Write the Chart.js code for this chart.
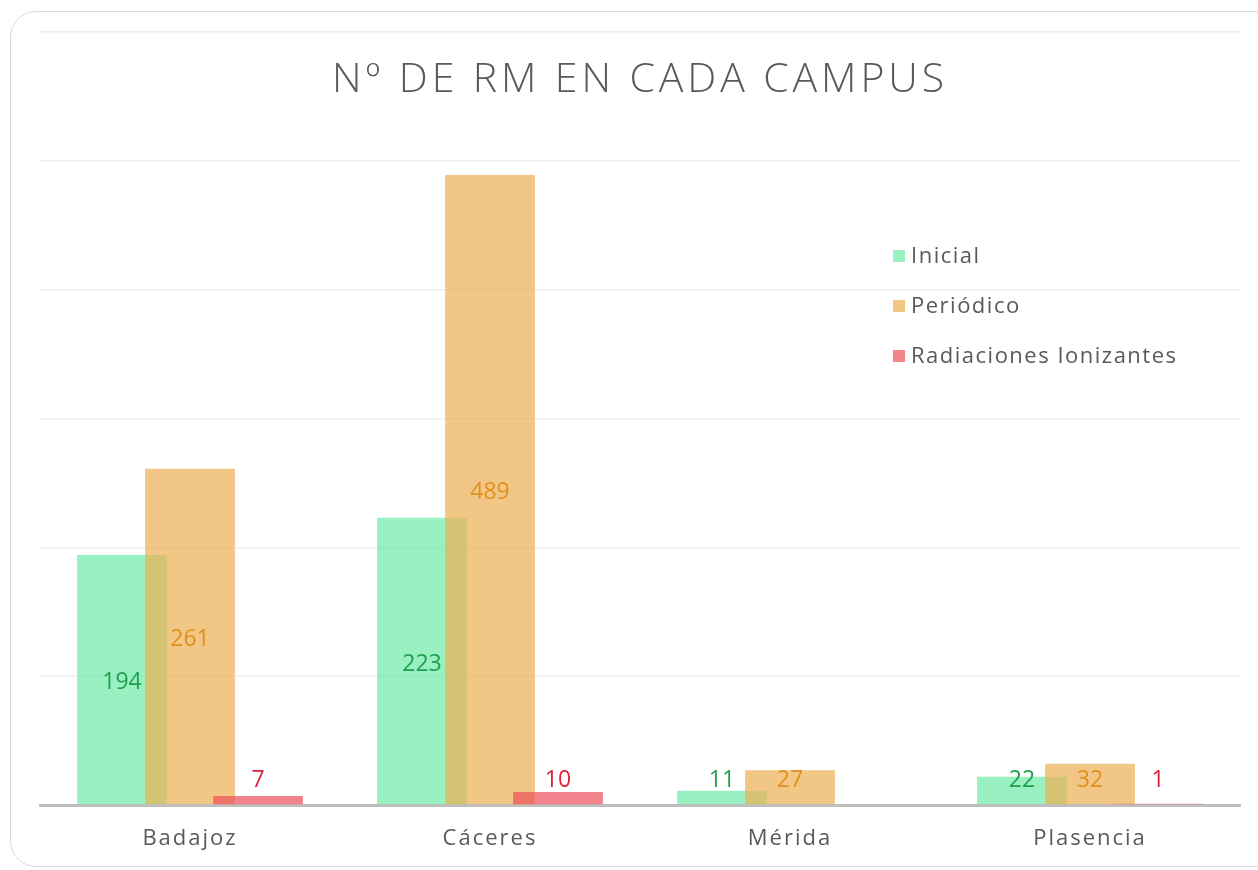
<!DOCTYPE html>
<html>
<head>
<meta charset="utf-8">
<script src="https://cdn.jsdelivr.net/npm/chart.js@4/dist/chart.umd.min.js"></script>
<style>
  html, body { margin: 0; padding: 0; background: #fff; overflow: hidden; }
  #wrap { position: relative; width: 1258px; height: 870px; }
  #frame {
    position: absolute; left: 10px; top: 11px; width: 1280px; height: 856px;
    border: 1.5px solid #d9d9d9; border-radius: 26px; box-sizing: border-box;
  }
  #title {
    position: absolute; left: 0; top: 48px; width: 1280px; text-align: center;
    font-family: "Open Sans", sans-serif; font-size: 41px; font-weight: 300;
    letter-spacing: 3.9px; color: #595959; pointer-events: none;
  }
  canvas { position: absolute; left: 0; top: 0; }
</style>
</head>
<body>
<div id="wrap">
  <div id="frame"></div>
  <canvas id="rmChart" width="1258" height="870"></canvas>
  <div id="title">Nº DE RM EN CADA CAMPUS</div>
</div>
<script>
// Datos
const campus = ["Badajoz", "Cáceres", "Mérida", "Plasencia"];
const inicial = [194, 223, 11, 22];
const periodico = [261, 489, 27, 32];
const radiaciones = [7, 10, null, 1];
const seriesNames = ["Inicial", "Periódico", "Radiaciones Ionizantes"];

const barColors = ["rgba(109, 234, 165, 0.7)", "rgba(236, 175, 81, 0.7)", "rgba(236, 79, 91, 0.7)"];
const legendColors = ["#99f0c0", "#f2c785", "#f2848c"];
const labelColors = ["#22a050", "#e0901e", "#e0203a"];

// Dibujar las series en orden: Inicial abajo, Radiaciones arriba
const drawOrder = {
  id: "drawOrder",
  beforeDatasetsDraw(chart) {
    chart.data.datasets.forEach((ds, i) => {
      chart.getDatasetMeta(i).controller.draw();
    });
    return false;
  },
};

// Etiquetas de datos en el centro de cada barra
const dataLabels = {
  id: "dataLabels",
  afterDraw(chart) {
    const ctx = chart.ctx;
    ctx.save();
    ctx.letterSpacing = "0px";
    ctx.font = "23px 'Open Sans', sans-serif";
    ctx.textAlign = "center";
    ctx.textBaseline = "middle";
    chart.data.datasets.forEach((ds, i) => {
      const meta = chart.getDatasetMeta(i);
      meta.data.forEach((bar, j) => {
        const v = ds.data[j];
        if (v === null || v === undefined) return;
        const mid = (bar.y + bar.base) / 2;
        const y = Math.min(mid, bar.base - 27) + 3;
        ctx.fillStyle = labelColors[i];
        ctx.fillText(String(v), bar.x, y);
      });
    });
    ctx.restore();
  },
};

// Leyenda dentro del área del gráfico
const sideLegend = {
  id: "sideLegend",
  afterDraw(chart) {
    const ctx = chart.ctx;
    ctx.save();
    ctx.letterSpacing = "1.5px";
    ctx.font = "22px 'Open Sans', sans-serif";
    ctx.textAlign = "left";
    ctx.textBaseline = "middle";
    chart.data.datasets.forEach((ds, i) => {
      const y = 256 + i * 50;
      ctx.fillStyle = legendColors[i];
      ctx.fillRect(893, y - 6, 12, 12);
      ctx.fillStyle = "#595959";
      ctx.fillText(ds.label, 911, y + 1);
    });
    ctx.restore();
  },
};

const spacing = {
  id: "spacing",
  beforeDraw(chart) { chart.ctx.letterSpacing = "2px"; },
};

new Chart(document.getElementById("rmChart").getContext("2d"), {
  type: "bar",
  data: {
    labels: campus,
    datasets: [
      { label: seriesNames[0], data: inicial, backgroundColor: barColors[0] },
      { label: seriesNames[1], data: periodico, backgroundColor: barColors[1] },
      { label: seriesNames[2], data: radiaciones, backgroundColor: barColors[2] },
    ],
  },
  options: {
    responsive: false,
    animation: false,
    categoryPercentage: 0.68,
    barPercentage: 1.32,
    layout: { padding: { left: 40, right: 18, top: 32, bottom: 0 } },
    plugins: {
      legend: { display: false },
      title: { display: false },
      tooltip: { enabled: false },
    },
    scales: {
      x: {
        z: 1,
        grid: { display: false },
        border: { color: "#bfbfbf", width: 3 },
        ticks: {
          color: "#595959",
          font: { family: "'Open Sans', sans-serif", size: 22 },
          padding: 13,
        },
        afterFit(scale) { scale.height = 65; },
      },
      y: {
        min: 0,
        max: 600,
        ticks: { display: false, stepSize: 100 },
        grid: { color: "#eeeeee", lineWidth: 1.5, drawTicks: false },
        border: { display: false },
        afterFit(scale) { scale.width = 0; },
      },
    },
  },
  plugins: [spacing, drawOrder, dataLabels, sideLegend],
});
</script>
</body>
</html>
